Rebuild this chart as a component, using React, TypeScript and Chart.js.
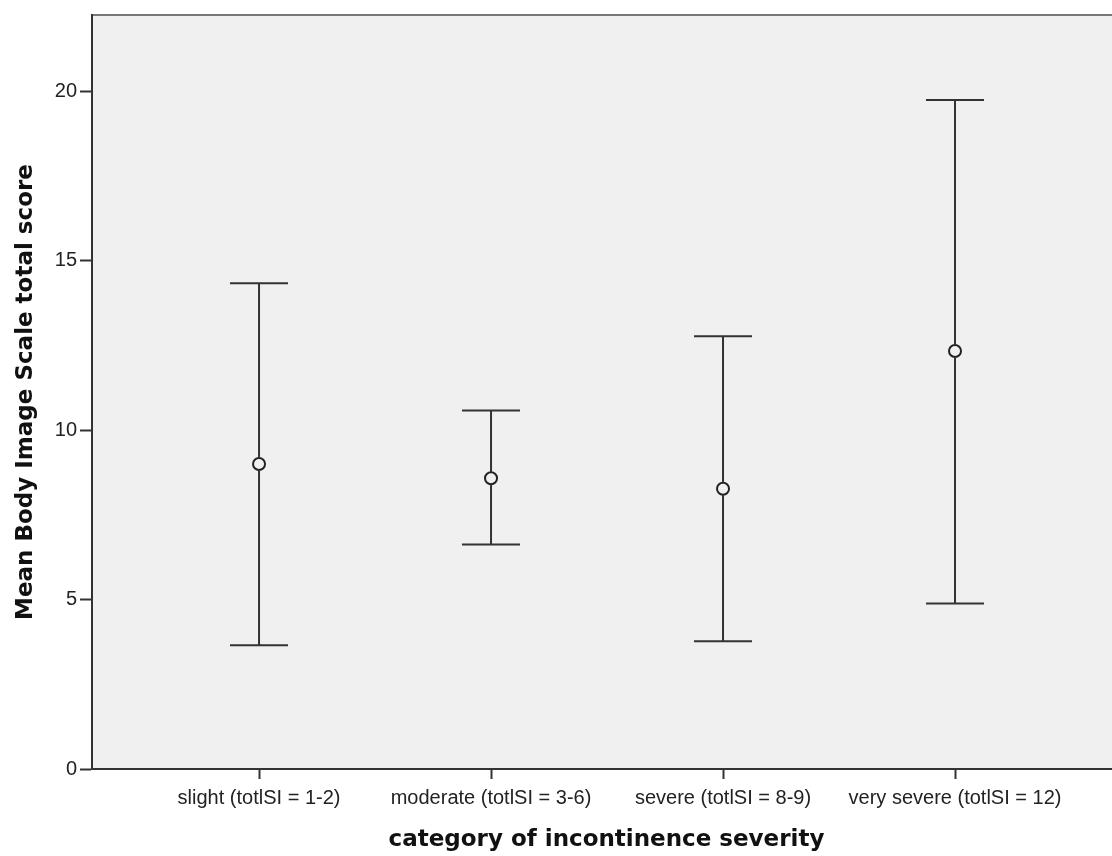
import React, { useEffect, useRef } from "react";
import { Chart, registerables } from "chart.js";

Chart.register(...registerables);

const categories = [
  "slight (totlSI = 1-2)",
  "moderate (totlSI = 3-6)",
  "severe (totlSI = 8-9)",
  "very severe (totlSI = 12)",
];
const means = [9.0, 8.58, 8.27, 12.33];
const upper = [14.33, 10.58, 12.77, 19.74];
const lower = [3.65, 6.62, 3.77, 4.88];
const yTicks = [0, 5, 10, 15, 20];

const LINE = "#333333";
const CANVAS_W = 1129;

const errorBarPlugin = {
  id: "errorBars",
  beforeDraw(chart: any) {
    const { ctx, chartArea } = chart;
    ctx.save();
    ctx.fillStyle = "#F0F0F0";
    ctx.fillRect(chartArea.left, chartArea.top, chartArea.right - chartArea.left, chartArea.bottom - chartArea.top);
    ctx.strokeStyle = "#777777";
    ctx.lineWidth = 2;
    ctx.beginPath();
    ctx.moveTo(chartArea.left, chartArea.top);
    ctx.lineTo(chartArea.right, chartArea.top);
    ctx.stroke();
    ctx.restore();
  },
  afterDatasetsDraw(chart: any) {
    const { ctx } = chart;
    const xs = chart.scales.x;
    const ys = chart.scales.y;
    ctx.save();
    ctx.strokeStyle = LINE;
    ctx.lineWidth = 2;
    const capHalf = 29;
    categories.forEach((_, i) => {
      const x = xs.getPixelForValue(i);
      const yHi = ys.getPixelForValue(upper[i]);
      const yLo = ys.getPixelForValue(lower[i]);
      const yM = ys.getPixelForValue(means[i]);
      const r = 6;
      ctx.beginPath();
      ctx.moveTo(x, yHi);
      ctx.lineTo(x, yM - r);
      ctx.moveTo(x, yM + r);
      ctx.lineTo(x, yLo);
      ctx.moveTo(x - capHalf, yHi);
      ctx.lineTo(x + capHalf, yHi);
      ctx.moveTo(x - capHalf, yLo);
      ctx.lineTo(x + capHalf, yLo);
      ctx.stroke();
    });
    ctx.restore();
  },
};

export default function App() {
  const ref = useRef<HTMLCanvasElement | null>(null);
  useEffect(() => {
    document.body.style.margin = "0";
    if (!ref.current) return;
    const chart = new Chart(ref.current, {
      type: "scatter",
      data: {
        datasets: [
          {
            data: means.map((m, i) => ({ x: i, y: m })),
            pointStyle: "circle",
            pointRadius: 6,
            pointBorderWidth: 2,
            pointBackgroundColor: "rgba(0,0,0,0)",
            pointBorderColor: "#222",
            showLine: false,
          },
        ],
      },
      options: {
        responsive: false,
        animation: false,
        layout: { padding: { top: 13, left: 0, right: 0, bottom: 0 } },
        plugins: {
          legend: { display: false },
          tooltip: { enabled: false },
        },
        scales: {
          x: {
            type: "linear",
            min: -0.72,
            max: 3.7155,
            afterBuildTicks: (s: any) => {
              s.ticks = categories.map((_, i) => ({ value: i }));
            },
            afterFit: (s: any) => {
              s.height = 87;
            },
            ticks: {
              callback: (v: any) => categories[v as number] ?? "",
              color: "#222",
              font: { family: "'Liberation Sans', Arial, sans-serif", size: 20 },
              padding: 7,
              maxRotation: 0,
              autoSkip: false,
            },
            grid: {
              drawOnChartArea: false,
              drawTicks: true,
              tickLength: 10,
              tickWidth: 2,
              tickColor: LINE,
            },
            border: { display: true, color: LINE, width: 2 },
            title: {
              display: true,
              text: "category of incontinence severity",
              color: "#111",
              font: { family: "'DejaVu Sans', sans-serif", size: 23, weight: "bold" },
              padding: { top: 0, bottom: 2 },
            },
          },
          y: {
            type: "linear",
            min: 0,
            max: 22.245,
            afterBuildTicks: (s: any) => {
              s.ticks = yTicks.map((v) => ({ value: v }));
            },
            afterFit: (s: any) => {
              s.width = 92;
            },
            ticks: {
              color: "#222",
              font: { family: "'Liberation Sans', Arial, sans-serif", size: 20 },
              padding: 3,
            },
            grid: {
              drawOnChartArea: false,
              drawTicks: true,
              tickLength: 12,
              tickWidth: 2,
              tickColor: LINE,
            },
            border: { display: true, color: LINE, width: 2 },
            title: {
              display: true,
              text: "Mean Body Image Scale total score",
              color: "#111",
              font: { family: "'DejaVu Sans', sans-serif", size: 23, weight: "bold" },
              padding: { top: 12, bottom: 0 },
            },
          },
        },
      },
      plugins: [errorBarPlugin],
    });
    return () => chart.destroy();
  }, []);
  return (
    <div style={{ width: 1112, height: 856, overflow: "hidden", background: "#fff" }}>
      <canvas ref={ref} width={CANVAS_W} height={856} style={{ display: "block" }} />
    </div>
  );
}
